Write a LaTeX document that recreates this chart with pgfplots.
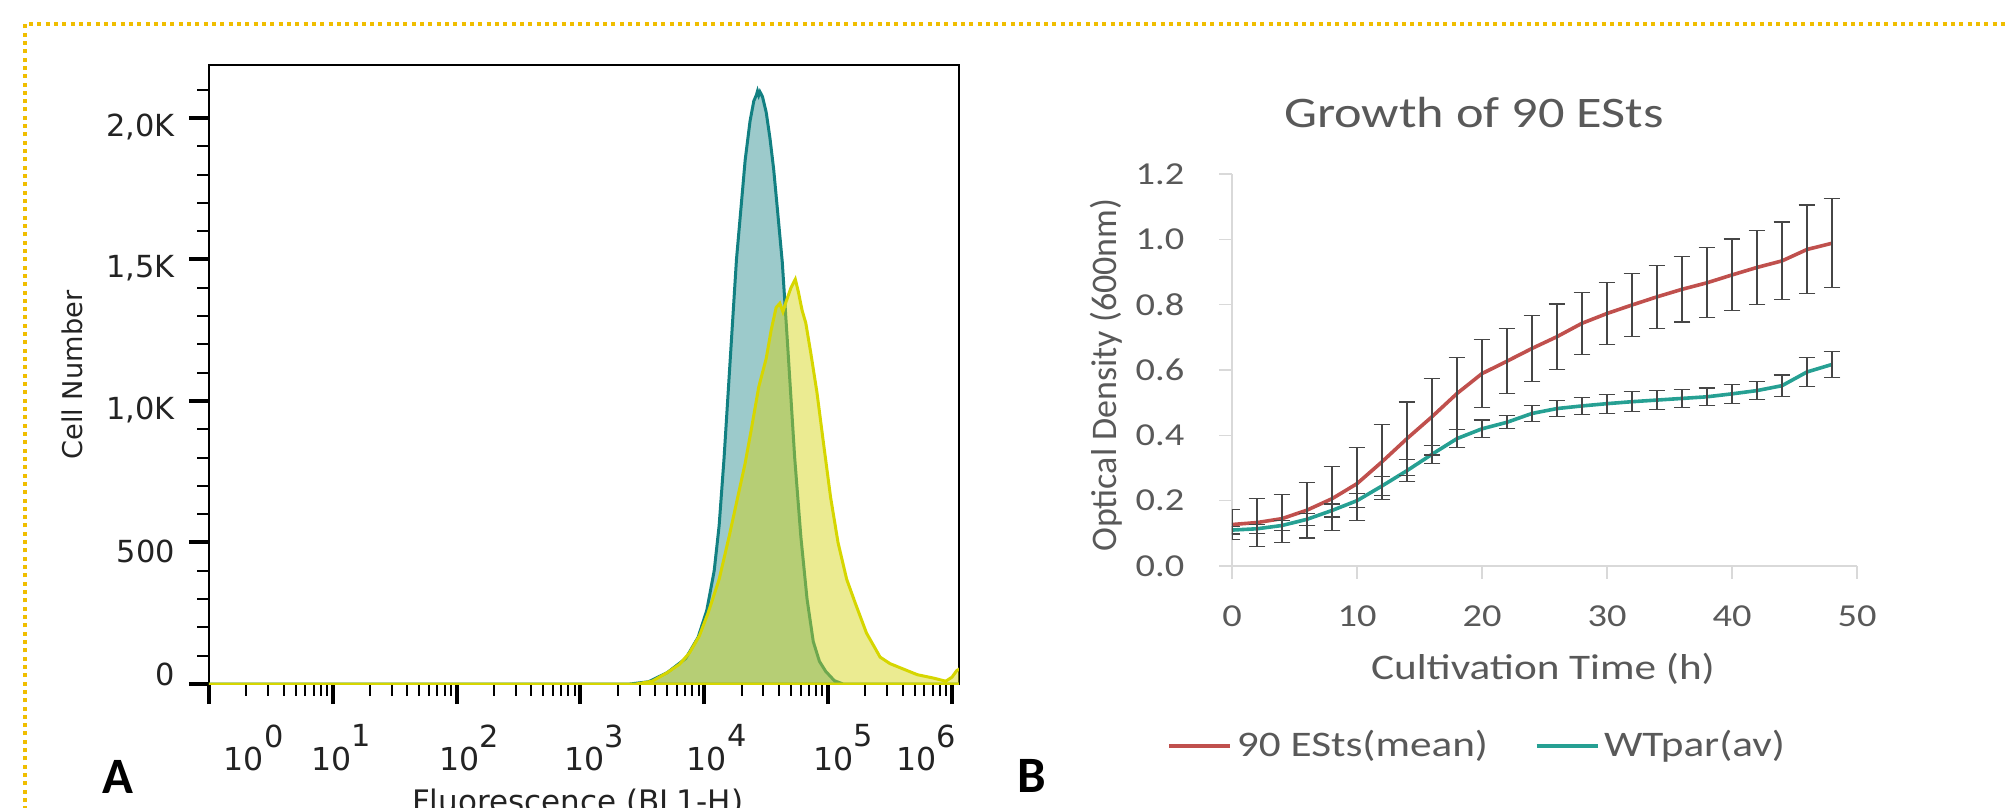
\documentclass[border=0pt]{standalone}
\usepackage{fontspec}
\usepackage{pgfplots}
\pgfplotsset{compat=1.18}
\usepackage{pgfplotstable}
\setmainfont{DejaVu Sans}
\newfontfamily\fA{DejaVu Sans}
\newfontfamily\fB[FakeStretch=1.2]{Carlito}
\newfontfamily\fBr{Carlito}

\definecolor{goldb}{RGB}{240,190,0}
\definecolor{tealA}{RGB}{18,128,130}
\definecolor{yelA}{RGB}{214,214,0}
\definecolor{yelF}{RGB}{213,213,21}
\definecolor{redB}{RGB}{192,80,77}
\definecolor{tealB}{RGB}{38,160,147}
\definecolor{errB}{RGB}{70,70,70}
\definecolor{axB}{RGB}{217,217,217}
\definecolor{txtB}{RGB}{89,89,89}
\definecolor{txtA}{RGB}{35,35,35}

\newcommand{\tl}[1]{10\raisebox{5.9pt}{\fontsize{7.6pt}{8pt}\selectfont #1}}

% Panel B data: time, mean, error
\pgfplotstableread{
t m e
0 0.127 0.045
2 0.133 0.074
4 0.145 0.074
6 0.171 0.085
8 0.206 0.098
10 0.252 0.112
12 0.319 0.115
14 0.390 0.112
16 0.457 0.117
18 0.528 0.110
20 0.589 0.104
22 0.627 0.100
24 0.666 0.100
26 0.702 0.100
28 0.743 0.095
30 0.773 0.094
32 0.799 0.097
34 0.824 0.096
36 0.847 0.100
38 0.867 0.107
40 0.891 0.110
42 0.914 0.113
44 0.934 0.119
46 0.969 0.136
48 0.988 0.136
}\redtab

\pgfplotstableread{
t m e
0 0.110 0.012
2 0.114 0.014
4 0.124 0.016
6 0.143 0.018
8 0.170 0.020
10 0.200 0.022
12 0.245 0.028
14 0.292 0.034
16 0.342 0.028
18 0.390 0.028
20 0.420 0.027
22 0.440 0.020
24 0.467 0.025
26 0.482 0.025
28 0.490 0.027
30 0.497 0.029
32 0.503 0.030
34 0.508 0.029
36 0.513 0.028
38 0.518 0.027
40 0.527 0.029
42 0.537 0.028
44 0.552 0.033
46 0.594 0.045
48 0.617 0.040
}\tealtab

\begin{document}
\begin{tikzpicture}
\useasboundingbox (0,0) rectangle (501.75pt,201.75pt);
\clip (0,0) rectangle (501.75pt,201.75pt);
\draw[goldb, line width=1pt, dash pattern=on 1pt off 1.08pt] (6.25pt,-5pt) -- (6.25pt,195.75pt) -- (510pt,195.75pt);

% ---------------- Panel A ----------------
\begin{axis}[
  at={(52.25pt,30.75pt)}, anchor=south west,
  scale only axis, width=187.5pt, height=154.75pt,
  xmin=0, xmax=6.057, ymin=0, ymax=2187,
  axis line style={line width=0.55pt, draw=black},
  tick align=outside, tick pos=left,
  major tick length=5pt, minor tick length=2.9pt,
  tick style={black},
  major tick style={line width=1pt},
  minor tick style={line width=0.5pt},
  xtick={0,1,2,3,4,5,6}, xticklabels={},
  minor xtick={0.301,0.477,0.602,0.699,0.778,0.845,0.903,0.954,
    1.301,1.477,1.602,1.699,1.778,1.845,1.903,1.954,
    2.301,2.477,2.602,2.699,2.778,2.845,2.903,2.954,
    3.301,3.477,3.602,3.699,3.778,3.845,3.903,3.954,
    4.301,4.477,4.602,4.699,4.778,4.845,4.903,4.954,
    5.301,5.477,5.602,5.699,5.778,5.845,5.903,5.954},
  ytick={500,1000,1500,2000}, yticklabels={500,{1,0K},{1,5K},{2,0K}},
  minor ytick={100,200,300,400,600,700,800,900,1100,1200,1300,1400,1600,1700,1800,1900,2100},
  yticklabel style={font=\fA\fontsize{7.6}{9}\selectfont, text=txtA, yshift=-2.25pt},
  extra y ticks={0}, extra y tick labels={0},
  extra y tick style={yticklabel style={yshift=4.75pt}},
  xticklabel style={font=\fA\fontsize{7.9}{9}\selectfont, text=txtA},
  extra x ticks={0.36,1.07,2.1,3.11,4.1,5.12,5.79},
  extra x tick labels={{\tl{0}},{\tl{1}},{\tl{2}},{\tl{3}},{\tl{4}},{\tl{5}},{\tl{6}}},
  extra x tick style={major tick length=0pt, xticklabel style={yshift=-6.6pt}},
  ylabel={Cell Number},
  ylabel style={font=\fA\fontsize{6.8}{8}\selectfont, text=txtA, at={(axis description cs:-0.1827,0.499)}, anchor=center},
  xlabel={Fluorescence (BL1-H)},
  xlabel style={font=\fA\fontsize{7.75}{9}\selectfont, text=txtA, at={(axis description cs:0.4915,0)}, anchor=north, inner sep=0pt, yshift=-26pt},
]
\addplot[draw=tealA, line width=0.75pt, fill=tealA, fill opacity=0.42] coordinates {
(0,0) (3.40,0) (3.55,8) (3.70,40) (3.85,90) (3.95,165) (4.02,260) (4.08,400) (4.12,560)
(4.16,800) (4.21,1150) (4.26,1500) (4.30,1700) (4.33,1850) (4.37,1990) (4.40,2060)
(4.42,2080) (4.43,2095) (4.44,2080) (4.45,2092) (4.47,2075) (4.50,2020) (4.53,1930)
(4.56,1820) (4.59,1680) (4.63,1490) (4.68,1150) (4.73,800) (4.78,520) (4.83,300)
(4.88,150) (4.93,80) (4.98,45) (5.05,12) (5.12,0) (6.06,0)
} \closedcycle;
\addplot[draw=yelA, line width=0.75pt, fill=yelF, fill opacity=0.47] coordinates {
(0,0) (3.45,0) (3.58,10) (3.70,40) (3.80,70) (3.88,110) (3.96,170) (4.03,250) (4.12,370)
(4.20,520) (4.27,660) (4.33,780) (4.38,900) (4.44,1050) (4.50,1150) (4.54,1250)
(4.58,1330) (4.61,1345) (4.635,1315) (4.66,1350) (4.70,1400) (4.735,1430) (4.76,1385)
(4.79,1320) (4.82,1275) (4.86,1170) (4.91,1030) (4.96,860) (5.02,660) (5.08,500)
(5.15,370) (5.22,285) (5.31,180) (5.42,95) (5.50,72) (5.59,56) (5.72,33) (5.85,21)
(5.95,10) (6.00,24) (6.04,48) (6.07,55)
} \closedcycle;
\end{axis}

% ---------------- Panel B ----------------
\begin{axis}[
  at={(308pt,60.25pt)}, anchor=south west,
  scale only axis, width=156.25pt, height=98pt,
  xmin=0, xmax=50, ymin=0, ymax=1.2,
  axis lines=left, axis line style={-, draw=axB, line width=0.33pt},
  tick align=outside, major tick length=3.2pt,
  tick style={draw=axB, line width=0.33pt},
  xtick={0,10,20,30,40,50}, xticklabels={0,10,20,30,40,50},
  ytick={0,0.2,0.4,0.6,0.8,1.0,1.2}, yticklabels={0.0,0.2,0.4,0.6,0.8,1.0,1.2},
  tick label style={font=\fB\fontsize{8}{9}\selectfont, text=txtB},
  yticklabel style={xshift=-5.2pt},
  xticklabel style={yshift=-3.25pt},
  title={Growth of 90 ESts},
  title style={font=\fB\fontsize{10.9}{12}\selectfont, text=txtB, at={(axis description cs:0.387,1)}, anchor=base, yshift=5.75pt},
  xlabel={Cultivation Time (h)},
  xlabel style={font=\fB\fontsize{9}{10}\selectfont, text=txtB, at={(axis description cs:0.4976,-0.262)}, anchor=center},
  ylabel={Optical Density (600nm)},
  ylabel style={font=\fBr\fontsize{9}{10}\selectfont, text=txtB, at={(axis description cs:-0.2016,0.487)}, anchor=center},
  legend columns=2,
  legend style={draw=none, fill=none, at={(axis description cs:-0.104,-0.459)}, anchor=west, inner sep=0pt,
    font=\fB\fontsize{9}{10}\selectfont, text=txtB, nodes={inner xsep=1.2pt, inner ysep=0pt},
    /tikz/every even column/.append style={column sep=10.5pt}},
  legend image code/.code={\draw[#1, line width=0.85pt] (0pt,0pt) -- (15.25pt,0pt);},
]
\addplot[redB, line width=0.9pt, mark=none] table[x=t, y=m] {\redtab};
\addlegendentry{90 ESts(mean)}
\addplot[tealB, line width=0.9pt, mark=none] table[x=t, y=m] {\tealtab};
\addlegendentry{WTpar(av)}
\addplot[forget plot, draw=none, mark=none,
  error bars/.cd, y dir=both, y explicit,
  error bar style={line width=0.3pt, draw=errB},
  error mark options={rotate=90, mark size=2.1pt, line width=0.3pt, draw=errB}]
  table[x=t, y=m, y error=e] {\redtab};
\addplot[forget plot, draw=none, mark=none,
  error bars/.cd, y dir=both, y explicit,
  error bar style={line width=0.3pt, draw=errB},
  error mark options={rotate=90, mark size=2.1pt, line width=0.3pt, draw=errB}]
  table[x=t, y=m, y error=e] {\tealtab};
\end{axis}

\node[anchor=base west, inner sep=0pt, font=\fBr\bfseries\fontsize{12.75}{14}\selectfont] at (25.5pt,3.5pt) {A};
\node[anchor=base west, inner sep=0pt, font=\fBr\bfseries\fontsize{12.75}{14}\selectfont] at (254.25pt,3.75pt) {B};
\end{tikzpicture}
\end{document}
